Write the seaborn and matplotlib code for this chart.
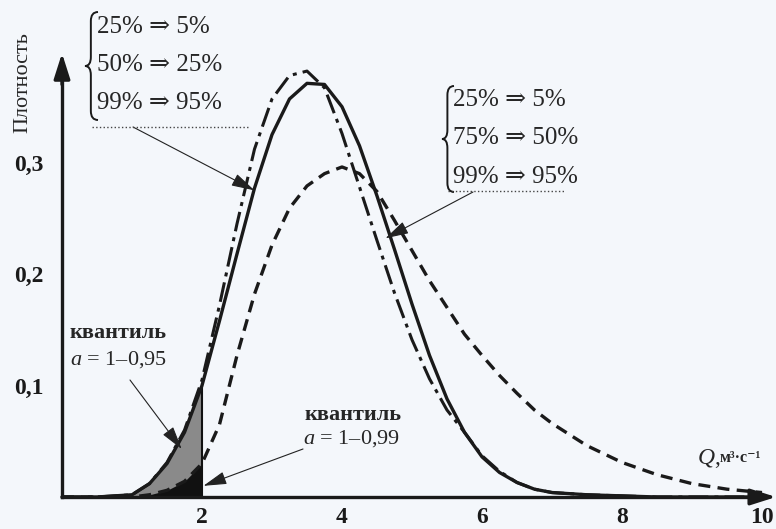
import numpy as np
import matplotlib
matplotlib.use('Agg')
import matplotlib.pyplot as plt
import seaborn as sns
from matplotlib.path import Path
from matplotlib.patches import PathPatch

# ============================================================
# DATA
# ============================================================
q = [0.0, 0.5, 1.0, 1.25, 1.5, 1.75, 2.0, 2.25, 2.5, 2.75, 3.0, 3.25, 3.5, 3.75,
     4.0, 4.25, 4.5, 4.75, 5.0, 5.25, 5.5, 5.75, 6.0, 6.25, 6.5, 6.75, 7.0,
     7.5, 8.0, 8.5, 9.0, 9.5, 10.0]

# solid curve
p_solid = [0, 0, 0.002, 0.012, 0.030, 0.058, 0.100, 0.158, 0.218, 0.277, 0.325, 0.357, 0.371, 0.370,
           0.350, 0.315, 0.270, 0.222, 0.173, 0.127, 0.088, 0.058, 0.036, 0.022, 0.013, 0.007, 0.004,
           0.002, 0.001, 0, 0, 0, 0]
# dash-dot curve
p_dashdot = [0, 0, 0.002, 0.012, 0.031, 0.060, 0.105, 0.172, 0.245, 0.312, 0.357, 0.378, 0.382, 0.367,
             0.326, 0.278, 0.230, 0.183, 0.141, 0.106, 0.078, 0.058, 0.037, 0.023, 0.013, 0.007, 0.004,
             0.002, 0.001, 0, 0, 0, 0]
# dashed curve
p_dashed = [0, 0, 0.0, 0.002, 0.006, 0.014, 0.030, 0.065, 0.127, 0.182, 0.226, 0.259, 0.279, 0.290,
            0.296, 0.290, 0.274, 0.248, 0.221, 0.194, 0.170, 0.146, 0.127, 0.109, 0.093, 0.078, 0.066,
            0.046, 0.031, 0.020, 0.012, 0.007, 0.004]

quantile_q = 2.0
y_ticks = [0.02 * i for i in range(1, 20)]
x_ticks = [2, 4, 6, 8, 10]

left_lines = ['25% ⇒ 5%', '50% ⇒ 25%', '99% ⇒ 95%']
right_lines = ['25% ⇒ 5%', '75% ⇒ 50%', '99% ⇒ 95%']

# ============================================================
# STYLE
# ============================================================
sns.set_theme(style='white')
plt.rcParams['font.family'] = ['Liberation Serif', 'DejaVu Serif']
plt.rcParams['mathtext.fontset'] = 'custom'
plt.rcParams['mathtext.it'] = 'Liberation Serif:italic'
plt.rcParams['mathtext.rm'] = 'Liberation Serif'
bg = '#f4f7fb'

W, H = 776, 529
fig = plt.figure(figsize=(W / 100, H / 100), dpi=100)
fig.patch.set_facecolor(bg)
ax = fig.add_axes([0, 0, 1, 1])
ax.set_facecolor(bg)

# pixel calibration: x=0 at px 62, 70 px per unit; y=0 at px 497, 1115 px per unit
ax.set_xlim(-62 / 70, (W - 62) / 70)
ax.set_ylim(-(H - 497) / 1115, 497 / 1115)


def P(px, py):
    return (px / W, 1 - py / H)


# ============================================================
# QUANTILE AREAS
# ============================================================
qa = np.array(q)
m = (qa >= 1.0) & (qa <= quantile_q)
ax.fill_between(qa[m], 0, np.array(p_solid)[m], color='#8a8a8a', lw=0, zorder=1)
ax.fill_between(qa[m], 0, np.array(p_dashed)[m], color='#111111', lw=0, zorder=2)
ax.vlines(quantile_q, 0, p_solid[q.index(quantile_q)], color='#111111', lw=1.5, zorder=2)

# ============================================================
# CURVES
# ============================================================
sns.lineplot(x=q, y=p_solid, ax=ax, color='k', lw=2.4, linestyle='-', zorder=3)
sns.lineplot(x=q, y=p_dashdot, ax=ax, color='k', lw=2.2,
             linestyle=(0, (6.5, 2.0, 1.3, 2.0)), zorder=3)
sns.lineplot(x=q, y=p_dashed, ax=ax, color='k', lw=2.4,
             linestyle=(0, (3.6, 2.2)), zorder=3)

# ============================================================
# AXES
# ============================================================
for s in ['top', 'right']:
    ax.spines[s].set_visible(False)
ax.spines['left'].set_position(('data', 0))
ax.spines['bottom'].set_position(('data', 0))
ax.spines['left'].set_bounds(0, 0.385)
ax.spines['bottom'].set_bounds(0, 10.05)
for s in ['left', 'bottom']:
    ax.spines[s].set_linewidth(2.4)
    ax.spines[s].set_color('k')
    ax.spines[s].set_zorder(4)

arrow_axis = dict(arrowstyle='-|>,head_length=1.1,head_width=0.35', lw=2.4,
                  color='k', mutation_scale=14, shrinkA=0, shrinkB=0)
ax.annotate('', xy=(0, 0.398), xytext=(0, 0.37), arrowprops=arrow_axis, zorder=5)
ax.annotate('', xy=(10.2, 0), xytext=(10.0, 0), arrowprops=arrow_axis, zorder=5)

ax.set_yticks(y_ticks)
ax.set_yticklabels([f'{v:.1f}'.replace('.', ',') if i % 5 == 4 else ''
                    for i, v in enumerate(y_ticks)], fontweight='bold')
ax.set_xticks(x_ticks)
ax.set_xticklabels([str(v) for v in x_ticks], fontweight='bold')
ax.tick_params(axis='y', direction='in', length=7, width=1.5, pad=13, labelsize=17, colors='k')
ax.tick_params(axis='x', direction='in', length=6, width=1.2, pad=7, labelsize=17, colors='k')
ax.set_xlabel('')
ax.set_ylabel('')

# axis titles
fig.text(*P(23, 83), 'Плотность', rotation=90, ha='center', va='center', fontsize=16)
fig.text(*P(697, 458), r'$Q$,', ha='left', va='center', fontsize=17)
fig.text(*P(720, 458), 'м³·с⁻¹', ha='left', va='center', fontsize=11.5, fontweight='bold')

# ============================================================
# BRACES AND NOTES
# ============================================================
def brace(x0, yt, yb, w):
    ym = (yt + yb) / 2
    xm = x0 - w * 0.55
    xt = x0 - w
    r = 9
    pts = [(x0, yt), (xm, yt), (xm, yt + r), (xm, ym - r), (xm, ym), (xt, ym),
           (xm, ym), (xm, ym + r), (xm, yb - r), (xm, yb), (x0, yb)]
    codes = [Path.MOVETO, Path.CURVE3, Path.CURVE3, Path.LINETO, Path.CURVE3, Path.CURVE3,
             Path.CURVE3, Path.CURVE3, Path.LINETO, Path.CURVE3, Path.CURVE3]
    path = Path([P(*p) for p in pts], codes)
    fig.add_artist(PathPatch(path, transform=fig.transFigure, fill=False, lw=1.4, ec='k'))


brace(98, 12, 120, 13)
for i, t in enumerate(left_lines):
    fig.text(*P(97, 27 + 38 * i), t, ha='left', va='center', fontsize=18)
fig.add_artist(plt.Line2D([92 / W, 248 / W], [1 - 127 / H] * 2, transform=fig.transFigure,
                          ls=':', lw=1.0, color='#444444'))

brace(454, 86, 192, 12)
for i, t in enumerate(right_lines):
    fig.text(*P(453, 100 + 38.5 * i), t, ha='left', va='center', fontsize=18)
fig.add_artist(plt.Line2D([448 / W, 565 / W], [1 - 191 / H] * 2, transform=fig.transFigure,
                          ls=':', lw=1.0, color='#444444'))

fig.text(*P(70, 333), 'квантиль', ha='left', va='center', fontsize=16, fontweight='bold')
fig.text(*P(70, 360), r'$a$ = 1–0,95', ha='left', va='center', fontsize=16)
fig.text(*P(305, 415), 'квантиль', ha='left', va='center', fontsize=16, fontweight='bold')
fig.text(*P(303, 439), r'$a$ = 1–0,99', ha='left', va='center', fontsize=16)

arrow_note = dict(arrowstyle='-|>,head_length=0.9,head_width=0.25', lw=0.8,
                  color='#222222', mutation_scale=16, shrinkA=0, shrinkB=0)
ax.annotate('', xy=(2.75, 0.275), xytext=P(133, 127), textcoords='figure fraction',
            arrowprops=arrow_note, zorder=6)
ax.annotate('', xy=(4.62, 0.232), xytext=P(473, 192), textcoords='figure fraction',
            arrowprops=arrow_note, zorder=6)
ax.annotate('', xy=(1.71, 0.043), xytext=P(130, 380), textcoords='figure fraction',
            arrowprops=arrow_note, zorder=6)
ax.annotate('', xy=(2.02, 0.010), xytext=P(303, 449), textcoords='figure fraction',
            arrowprops=arrow_note, zorder=6)

fig.savefig('out.png', dpi=100, facecolor=bg)
